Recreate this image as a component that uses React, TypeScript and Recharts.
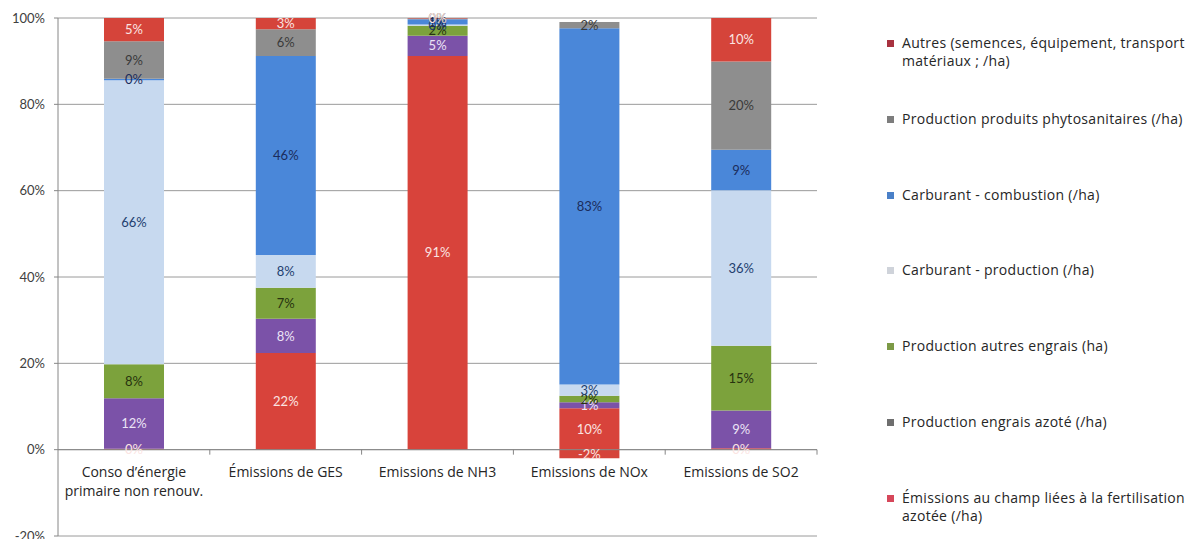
import { Bar, BarChart, CartesianGrid, LabelList, Legend, ReferenceLine, XAxis, YAxis } from 'recharts'

const categories = [
  'Conso d\u2019énergie\nprimaire non renouv.',
  'Émissions de GES',
  'Emissions de NH3',
  'Emissions de NOx',
  'Emissions de SO2',
]

// shares (%) per category, bottom of the stack first
const champ = [0.2, 22.4, 91.2, 9.6, 0.3]
const engraisAzote = [11.7, 7.9, 4.7, 1.4, 8.8]
const autresEngrais = [7.9, 7.2, 2.3, 1.5, 15]
const carburantProd = [65.8, 7.6, 0.3, 2.6, 36]
const carburantComb = [0.3, 46.1, 1.2, 82.5, 9.4]
const phyto = [8.7, 6.2, 0.2, 1.5, 20.4]
const autres = [5.4, 2.6, 0.1, -2, 10.1]

const yTicks = [-20, 0, 20, 40, 60, 80, 100]

const series = [
  { key: 'champ', name: 'Émissions au champ liées à la fertilisation azotée (/ha)', values: champ, color: '#d8433b', legend: '#d6475a', text: '#fbe4e2' },
  { key: 'engraisAzote', name: 'Production engrais azoté (/ha)', values: engraisAzote, color: '#7b52a8', legend: '#6e6e6e', text: '#ece4f6' },
  { key: 'autresEngrais', name: 'Production autres engrais (ha)', values: autresEngrais, color: '#7ca23c', legend: '#7c9a46', text: '#27330f' },
  { key: 'carburantProd', name: 'Carburant - production (/ha)', values: carburantProd, color: '#c7d9ef', legend: '#cfd3da', text: '#23406f' },
  { key: 'carburantComb', name: 'Carburant - combustion (/ha)', values: carburantComb, color: '#4a87d9', legend: '#4a80c8', text: '#1b2c5c' },
  { key: 'phyto', name: 'Production produits phytosanitaires (/ha)', values: phyto, color: '#8e8e8e', legend: '#7d7d7d', text: '#3a3a3a' },
  { key: 'autres', name: 'Autres (semences, équipement, transport matériaux ; /ha)', values: autres, color: '#d5443a', legend: '#a8323f', text: '#fbe4e2' },
]

const data = categories.map((category, i) => {
  const row: Record<string, string | number> = { category }
  series.forEach((s) => {
    row[s.key] = s.values[i]
  })
  return row
})

const W = 1187
const H = 539
const TOP = 18
const BOTTOM = 3
const LEFT = 58
const RIGHT = 370
const PLOT_H = H - TOP - BOTTOM
const ZERO_Y = TOP + (PLOT_H * 100) / 120
const CAT_W = (W - LEFT - RIGHT) / categories.length
const FONT = 'Lato, "Open Sans", sans-serif'
const TEXT_FONT = '"Open Sans", Lato, sans-serif'

const CategoryTick = ({ x, payload }: any) => {
  const lines = String(payload.value).split('\n')
  return (
    <g>
      {lines.map((line, i) => (
        <text key={i} x={x} y={ZERO_Y + 27 + i * 19} textAnchor="middle" fontSize={14} fill="#262626" fontFamily={TEXT_FONT}>
          {line}
        </text>
      ))}
      <line x1={x + CAT_W / 2} x2={x + CAT_W / 2} y1={ZERO_Y} y2={ZERO_Y + 5} stroke="#868686" />
    </g>
  )
}

const LegendBox = () => (
  <div style={{ fontFamily: TEXT_FONT, fontSize: 14, letterSpacing: 0.3, color: '#262626' }}>
    {[...series].reverse().map((s) => (
      <div key={s.key} style={{ height: 75.8, display: 'flex', alignItems: 'flex-start' }}>
        <span style={{ width: 7, height: 7, background: s.legend, marginTop: 6, marginRight: 8, flex: 'none' }} />
        <span style={{ lineHeight: '18px', width: 285 }}>{s.name}</span>
      </div>
    ))}
  </div>
)

export default function App() {
  return (
    <div style={{ position: 'absolute', left: 0, top: 0, width: W, height: H, background: '#fff' }}>
      <BarChart
        width={W}
        height={H}
        data={data}
        stackOffset="sign"
        margin={{ top: TOP, right: RIGHT, bottom: 0, left: 0 }}
      >
        <CartesianGrid vertical={false} stroke="#9a9a9a" />
        <XAxis dataKey="category" height={BOTTOM} axisLine={false} tickLine={false} interval={0} tick={<CategoryTick />} />
        <YAxis
          width={LEFT}
          domain={[-20, 100]}
          ticks={yTicks}
          interval={0}
          tickFormatter={(v) => `${v}%`}
          tick={{ fontSize: 13, fill: '#404040', fontFamily: FONT }}
          tickSize={4}
          tickMargin={9}
          axisLine={{ stroke: '#868686' }}
          tickLine={{ stroke: '#868686' }}
        />
        <ReferenceLine y={0} stroke="#868686" />
        {series.map((s) => (
          <Bar key={s.key} dataKey={s.key} name={s.name} stackId="a" fill={s.color} barSize={60} isAnimationActive={false}>
            <LabelList
              dataKey={s.key}
              position="center"
              fill={s.text}
              fontSize={13}
              fontFamily={FONT}
              formatter={(v: any) => `${Math.round(Number(v))}%`}
            />
          </Bar>
        ))}
        <Legend
          layout="horizontal"
          verticalAlign="middle"
          align="center"
          content={<LegendBox />}
          wrapperStyle={{ left: 887, top: 34, width: 300 }}
        />
      </BarChart>
    </div>
  )
}
